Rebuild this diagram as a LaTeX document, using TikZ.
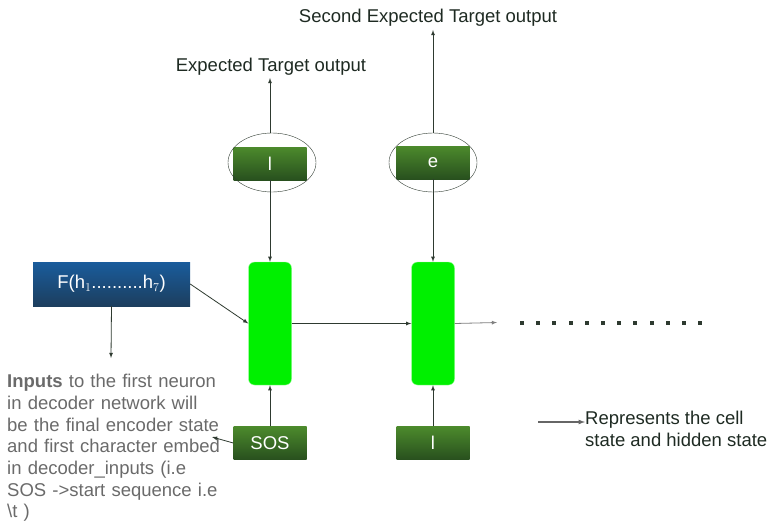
\documentclass[tikz,border=0pt]{standalone}
\usepackage{fontspec}
\setmainfont{Liberation Sans}
\usepackage{xcolor}
\usetikzlibrary{shapes.geometric}

\definecolor{cellgreen}{HTML}{00F000}
\definecolor{toktop}{HTML}{4C8A2C}
\definecolor{tokbot}{HTML}{28501E}
\definecolor{ftop}{HTML}{1A5C9C}
\definecolor{fbot}{HTML}{1C3E5E}
\definecolor{lineclr}{HTML}{2E3A30}
\definecolor{notegray}{HTML}{6A6A6A}
\definecolor{textclr}{HTML}{1E2A22}

\begin{document}
\begin{tikzpicture}[
  x=1pt, y=-1pt,
  every node/.style={font=\fontsize{18.5}{21.7}\selectfont, text=textclr},
  cell/.style={draw=green!40!white, fill=cellgreen, rounded corners=6pt,
    minimum width=43pt, minimum height=123pt, inner sep=0pt},
  tok/.style={top color=toktop, bottom color=tokbot, text=white,
    minimum width=73pt, minimum height=33pt, inner sep=0pt},
  ring/.style={draw=lineclr, ellipse, minimum width=88pt, minimum height=59pt},
  link/.style={draw=lineclr, line width=0.8pt, ->, >=latex}
]
  \useasboundingbox (0,0) rectangle (773,532);

  % decoder cells
  \node[cell] (c1) at (270,323.5) {};
  \node[cell] (c2) at (433,323.5) {};

  % predicted tokens
  \node[tok] (t1) at (270,163.5) {l};
  \node[tok] (t2) at (433,162.5) {e};
  \node[ring] (o1) at (272,162.5) {};
  \node[ring] (o2) at (433,162.5) {};

  % inputs
  \node[tok] (sos) at (270,443) {SOS};
  \node[tok] (x2) at (433,443) {l};
  \node[top color=ftop, bottom color=fbot, text=white, minimum width=157pt,
    minimum height=44pt, inner sep=0pt] (f) at (111.5,284) {F(h$_1$..........h$_7$)};

  % labels
  \node (lbl1) at (271,67) {Expected Target output};
  \node (lbl2) at (428,18) {Second Expected Target output};
  \node[anchor=north west, align=left, text width=215pt, inner sep=0pt, text=notegray]
    (note) at (7,374) {\textbf{Inputs} to the first neuron\\
    in decoder network will\\
    be the final encoder state\\
    and first character embed\\
    in decoder\_inputs (i.e\\
    SOS ->start sequence i.e\\
    \textbackslash t )};
  \node[anchor=north west, align=left, inner sep=0pt] (key) at (585,411)
    {Represents the cell\\state and hidden state};

  \coordinate (fend) at (111,358);
  \coordinate (noteend) at (212,437);
  \coordinate (c2out) at (497,322.5);
  \coordinate (keystart) at (538,422);

  % connectors
  \draw[link] (t1.south) -- (c1.north);
  \draw[link] (t2.south) -- (c2.north);
  \draw[link] (o1.north -| t1) -- (t1 |- 0,78);
  \draw[link] (o2.north) -- (433,30);
  \draw[link] (sos.north) -- (c1.south);
  \draw[link] (x2.north) -- (c2.south);
  \draw[link] (f.east) -- (c1.west);
  \draw[link] (f.south) -- (fend);
  \draw[link] (sos.west) -- (noteend);
  \draw[link] (c1.east) -- (c2.west);
  \draw[link, draw=gray] (c2.east) -- (c2out);
  \draw[link, draw=gray!80!black, line width=1.2pt] (keystart) -- (key.west |- keystart);

  % continuation dots
  \foreach \i in {0,...,11}
    \fill[lineclr] (520+\i*16.2,320.5) rectangle ++(4,4);
\end{tikzpicture}
\end{document}
